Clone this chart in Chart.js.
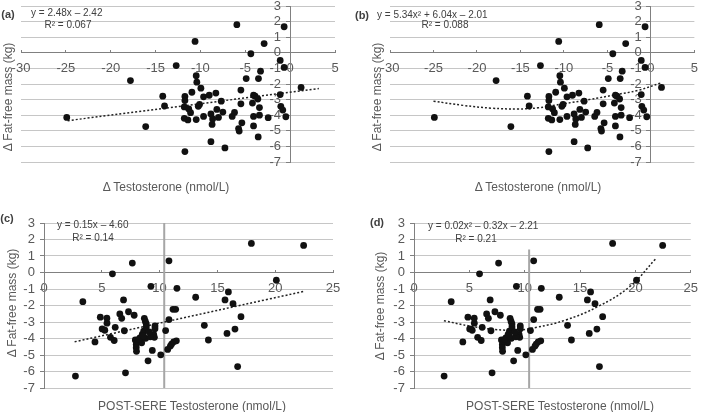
<!DOCTYPE html>
<html>
<head>
<meta charset="utf-8">
<script src="https://cdn.jsdelivr.net/npm/chart.js@4.4.0/dist/chart.umd.min.js"></script>
<style>
  html, body { margin: 0; padding: 0; background: #fff; }
  #wrap { position: relative; width: 709px; height: 412px; overflow: hidden; font-family: "Liberation Sans", Arial, sans-serif; color: #404040; }
  canvas { position: absolute; }
  .t { position: absolute; white-space: nowrap; line-height: 1; }
  .eq { font-size: 10px; transform: translateY(-50%); }
  .r2 { font-size: 10px; transform: translate(-50%, -50%); }
  .tag { font-size: 11px; font-weight: bold; transform: translate(-50%, -50%); }
  .xt { font-size: 12px; color: #595959; transform: translate(-50%, -50%); }
  .yt { font-size: 12px; color: #595959; transform: translate(-50%, -50%) rotate(-90deg); }
</style>
</head>
<body>
<div id="wrap">
  <canvas id="pa" width="355" height="214" style="left:0;top:-8px"></canvas>
  <canvas id="pb" width="354" height="214" style="left:355px;top:-8px"></canvas>
  <canvas id="pc" width="355" height="206" style="left:0;top:206px"></canvas>
  <canvas id="pd" width="354" height="206" style="left:355px;top:206px"></canvas>

  <div class="t tag" style="left:8px;top:14px">(a)</div>
  <div class="t eq" style="left:31px;top:13px">y = 2.48x – 2.42</div>
  <div class="t r2" style="left:68px;top:25px">R² = 0.067</div>
  <div class="t yt" style="left:8px;top:97px">Δ Fat-free mass (kg)</div>
  <div class="t xt" style="left:166px;top:187px">Δ Testosterone (nmol/L)</div>

  <div class="t tag" style="left:362px;top:15px">(b)</div>
  <div class="t eq" style="left:377px;top:15px">y = 5.34x² + 6.04x – 2.01</div>
  <div class="t r2" style="left:445px;top:25px">R² = 0.088</div>
  <div class="t yt" style="left:377px;top:97px">Δ Fat-free mass (kg)</div>
  <div class="t xt" style="left:538px;top:187px">Δ Testosterone (nmol/L)</div>

  <div class="t tag" style="left:7px;top:218px">(c)</div>
  <div class="t eq" style="left:57px;top:225px">y = 0.15x – 4.60</div>
  <div class="t r2" style="left:93px;top:238px">R² = 0.14</div>
  <div class="t yt" style="left:12px;top:303px">Δ Fat-free mass (kg)</div>
  <div class="t xt" style="left:192px;top:406px">POST-SERE Testosterone (nmol/L)</div>

  <div class="t tag" style="left:377px;top:222px">(d)</div>
  <div class="t eq" style="left:428px;top:226px">y = 0.02x² – 0.32x – 2.21</div>
  <div class="t r2" style="left:476px;top:239px">R² = 0.21</div>
  <div class="t yt" style="left:380px;top:306px">Δ Fat-free mass (kg)</div>
  <div class="t xt" style="left:560px;top:406px">POST-SERE Testosterone (nmol/L)</div>
</div>
<script>
// change in testosterone vs change in fat-free mass (panels a, b)
const deltaT = [-24.9, -17.8, -16.1, -14.2, -14.0, -12.7,
  -5.94, -0.67, -10.6, -2.9, -4.38, -1.11, -0.67, -3.30, -4.90, -3.53,
  -10.47, -10.4, -9.95, 1.22, -5.49, -10.95, -8.28, -11.73, -9.65, -9.02,
  -1.11, -4.08, -3.9, -3.6, -11.73, -10.24, -10.1, -7.68, -5.49, -4.2,
  -3.42, -1.04, -0.82, -11.8, -11.3, -11.1, -9.65, -8.83, -7.5, -8.17,
  -7.99, -8.64, -8.7, -6.46, -6.2, -4.08, -3.42, -2.45, -0.48, -11.8,
  -11.4, -10.47, -5.75, -5.68, -5.38, -4.08, -8.83, -7.27, -3.56, -11.73];
const deltaFFM = [-4.14, -1.78, -4.73, -2.78, -3.41, -0.82,
  1.80, 1.67, 0.73, 0.59, -0.06, -0.49, -0.94, -1.18, -1.65, -1.65,
  -1.47, -1.88, -2.27, -2.22, -2.39, -2.53, -2.58, -2.80, -2.82, -2.72,
  -2.68, -2.72, -2.78, -2.96, -3.06, -3.43, -3.31, -3.10, -3.27, -3.22,
  -3.51, -3.43, -3.67, -3.47, -3.60, -3.84, -4.08, -3.92, -3.80, -3.63,
  -4.14, -4.24, -4.59, -4.08, -3.82, -4.08, -4.00, -4.16, -4.10, -4.20,
  -4.30, -4.28, -4.86, -5.02, -4.49, -4.69, -5.70, -6.10, -5.39, -6.33];

// post-SERE testosterone vs change in fat-free mass (panels c, d)
const postT = [2.72, 3.36, 4.41, 4.87, 5.03, 5.26, 5.44, 5.45, 5.92, 5.75,
  6.07, 6.16, 6.56, 6.72, 6.88, 6.95, 7.05, 7.31, 7.64, 7.8,
  7.9, 7.98, 7.98, 8.0, 8.13, 8.3, 8.45, 8.5, 8.62, 8.8,
  8.68, 8.77, 8.85, 8.85, 9.0, 9.25, 9.37, 9.49, 9.55, 9.6,
  9.6, 10.1, 10.52, 10.7, 10.81, 10.81, 10.93, 11.04, 11.16, 11.22,
  11.39, 11.45, 11.5, 13.12, 13.87, 14.22, 15.66, 15.95, 15.83, 16.35,
  16.52, 16.75, 17.04, 17.94, 20.1, 22.46, 8.2, 8.6, 9.2, 9.1];
const postFFM = [-6.28, -1.77, -4.21, -2.71, -3.42, -3.50, -2.77, -3.07, -0.08, -3.93,
  -4.12, -3.32, -2.51, -2.78, -1.66, -3.53, -6.08, -2.38, 0.57, -2.59,
  -4.09, -4.36, -4.56, -4.78, -4.15, -3.97, -4.26, -3.75, -3.55, -3.99,
  -2.78, -2.97, -3.12, -3.30, -5.35, -0.84, -4.72, -3.75, -3.93, -3.24,
  -3.41, -4.99, -3.52, -4.66, 0.71, -2.85, -4.46, -4.34, -2.23, -4.20,
  -2.23, -4.14, -0.96, -1.50, -3.20, -4.09, -1.66, -1.18, -3.69, -1.89,
  -3.43, -5.70, -2.68, 1.76, -0.47, 1.64, -4.05, -3.85, -3.90, -3.60];

// trend lines
const fitAx = [-24.8, 3.2];
const fitAy = [-4.35, -2.29];
const fitBx = [-25.0, -21.6, -18.3, -15.3, -13.0, -10.1, -7.1, -4.1, -1.5, 1.1];
const fitBy = [-3.10, -3.37, -3.55, -3.60, -3.53, -3.27, -3.00, -2.69, -2.41, -1.94];
const fitCx = [2.65, 22.5];
const fitCy = [-4.20, -1.14];
const fitDx = [2.7, 5.0, 7.3, 9.3, 11.1, 13.7, 16.6, 19.5, 21.8];
const fitDy = [-2.92, -3.24, -3.45, -3.49, -3.32, -2.88, -2.07, -0.85, 0.81];

// grey vertical reference line in c and d
const refX = 10.4;
const refCy = [3, -7];
const refDy = [1.4, -7];

const yTicks = [-7, -6, -5, -4, -3, -2, -1, 0, 1, 2, 3];
const xTicksDelta = [-30, -25, -20, -15, -10, -5, 0, 5];
const xTicksPost = [0, 5, 10, 15, 20, 25];

const pts = (xs, ys) => xs.map((x, i) => ({ x: x, y: ys[i] }));
const tickFont = { family: "'Liberation Sans', Arial, sans-serif", size: 13 };

function panel(id, cfg) {
    const datasets = [
        {
            data: pts(cfg.xs, cfg.ys),
            pointRadius: 3.4,
            pointBackgroundColor: '#111',
            pointBorderWidth: 0
        },
        {
            type: 'line',
            data: pts(cfg.fitX, cfg.fitY),
            borderColor: '#222',
            borderWidth: 1.5,
            borderDash: [2, 2],
            pointRadius: 0,
            tension: 0.4,
            fill: false
        }
    ];
    if (cfg.refY) {
        datasets.push({
            type: 'line',
            data: cfg.refY.map(y => ({ x: refX, y: y })),
            borderColor: '#a6a6a6',
            borderWidth: 2,
            pointRadius: 0,
            fill: false
        });
    }
    new Chart(document.getElementById(id), {
        type: 'scatter',
        data: { datasets: datasets },
        options: {
            responsive: false,
            animation: false,
            layout: { padding: cfg.pad },
            plugins: { legend: { display: false }, tooltip: { enabled: false } },
            scales: {
                x: {
                    type: 'linear',
                    min: cfg.xTicks[0],
                    max: cfg.xTicks[cfg.xTicks.length - 1],
                    position: { y: 0 },
                    afterBuildTicks: s => { s.ticks = cfg.xTicks.map(v => ({ value: v })); },
                    grid: { display: true, drawOnChartArea: false, color: '#808080', tickLength: -3 },
                    border: { color: '#808080' },
                    ticks: { font: tickFont, color: '#595959', padding: 11, autoSkip: false, maxRotation: 0 }
                },
                y: {
                    type: 'linear',
                    min: -7,
                    max: 3,
                    position: { x: 0 },
                    afterBuildTicks: s => { s.ticks = yTicks.map(v => ({ value: v })); },
                    grid: { color: '#c6c6c6', tickColor: '#808080', tickLength: 4, lineWidth: 1 },
                    border: { color: '#808080' },
                    ticks: {
                        font: tickFont, color: '#595959', autoSkip: false,
                        callback: v => v + '\u2002\u2009'
                    }
                }
            }
        }
    });
}

panel('pa', { xs: deltaT, ys: deltaFFM, fitX: fitAx, fitY: fitAy, xTicks: xTicksDelta,
    pad: { left: 21, right: 20, top: 14, bottom: 44 } });
panel('pb', { xs: deltaT, ys: deltaFFM, fitX: fitBx, fitY: fitBy, xTicks: xTicksDelta,
    pad: { left: 35, right: 6, top: 14, bottom: 44 } });
panel('pc', { xs: postT, ys: postFFM, fitX: fitCx, fitY: fitCy, xTicks: xTicksPost, refY: refCy,
    pad: { left: 44, right: 22, top: 17, bottom: 24 } });
panel('pd', { xs: postT, ys: postFFM, fitX: fitDx, fitY: fitDy, xTicks: xTicksPost, refY: refDy,
    pad: { left: 59, right: 7, top: 17, bottom: 24 } });
</script>
</body>
</html>
